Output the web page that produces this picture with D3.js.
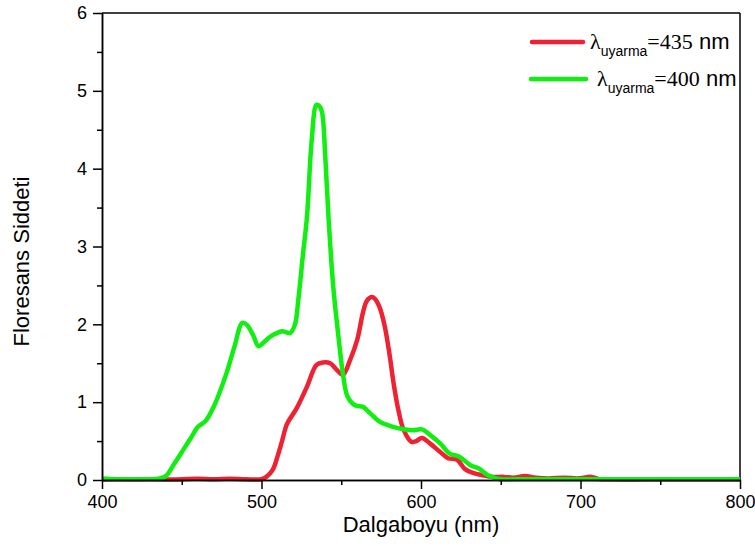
<!DOCTYPE html>
<html><head><meta charset="utf-8">
<script src="https://cdn.jsdelivr.net/npm/d3@7"></script>
<style>body{margin:0;background:#fff}svg{display:block}
.serif{font-family:"Liberation Serif","DejaVu Serif","Times New Roman",serif}
.sans{font-family:"Liberation Sans",Arial,sans-serif}
</style>
</head><body>
<svg id="chart" width="755" height="546"></svg>
<script>
// Data (wavelength nm, fluorescence intensity)
const redX = [400,410,420,430,440,450,460,470,480,490,500,503,507,510,513,516,522,528.5,534.5,538.6,543,547,551,555.5,560,563.6,566,569,571,574,577,580,583,586,589,594,597,600.6,605.6,612,617,622.6,627.6,632.6,639,645,652,658,665,672,680,690,698,707,712,720,740,760,780,800];
const redY = [0.005,0.01,0.005,0.01,0.005,0.01,0.015,0.01,0.015,0.01,0.01,0.04,0.13,0.3,0.51,0.72,0.92,1.2,1.48,1.51,1.5,1.42,1.35,1.54,1.8,2.15,2.3,2.35,2.33,2.22,2.0,1.65,1.22,0.88,0.65,0.49,0.5,0.54,0.47,0.36,0.28,0.26,0.14,0.09,0.06,0.04,0.04,0.03,0.05,0.03,0.02,0.03,0.02,0.04,0.01,0.005,0.005,0.005,0.005,0.005];
const greenX = [400,410,420,430,436,440,445,451,456,460,465,470,478,483,488,491,495,498,502,506,510,513,518,521,523,526,528.5,531.5,534.5,536.5,538,540,542,545,548,551,554,558.6,563.6,568,574,580,585,590,595,600.6,605.6,612,618,624,631,636,642,649.5,660,700,750,800];
const greenY = [0.02,0.01,0.01,0.01,0.02,0.05,0.2,0.39,0.55,0.68,0.76,0.94,1.37,1.71,2.02,1.99,1.85,1.72,1.78,1.85,1.89,1.91,1.89,2.0,2.3,2.9,3.38,4.37,4.82,4.8,4.72,4.15,3.38,2.48,1.89,1.37,1.07,0.96,0.94,0.86,0.75,0.7,0.67,0.65,0.64,0.65,0.58,0.47,0.34,0.3,0.19,0.15,0.06,0.01,0.01,0.01,0.01,0.01];
const xTicks = [400,500,600,700,800];
const xMinor = [450,550,650,750];
const yTicks = [0,1,2,3,4,5,6];
const yMinor = [0.5,1.5,2.5,3.5,4.5,5.5];
const seriesNames = ["=435", "=400"];

const svg = d3.select("#chart");
const L = 102, R = 740, T = 13, B = 480;
const x = d3.scaleLinear().domain([400,800]).range([L,R]);
const y = d3.scaleLinear().domain([0,6]).range([B,T]);

const line = d3.line().x(d => x(d[0])).y(d => y(d[1])).curve(d3.curveCatmullRom.alpha(0.5));
const red = redX.map((v,i) => [v, redY[i]]);
const green = greenX.map((v,i) => [v, greenY[i]]);

const redC = "#ee2233", greenC = "#11ee11";

// frame
svg.append("line").attr("x1",L).attr("x2",R).attr("y1",T).attr("y2",T).attr("stroke","#000").attr("stroke-width",1.5);
svg.append("line").attr("x1",R).attr("x2",R).attr("y1",T).attr("y2",B).attr("stroke","#000").attr("stroke-width",1.5);

svg.append("path").datum(red).attr("d",line).attr("fill","none").attr("stroke",redC).attr("stroke-width",4.5).attr("stroke-linejoin","round");
svg.append("path").datum(green).attr("d",line).attr("fill","none").attr("stroke",greenC).attr("stroke-width",4.5).attr("stroke-linejoin","round");

// axes
svg.append("g").attr("transform",`translate(0,${B})`)
  .call(d3.axisBottom(x).tickValues(xTicks).tickSize(9).tickPadding(6).tickSizeOuter(0).tickFormat(d3.format("d")));
svg.append("g").attr("transform",`translate(0,${B})`)
  .call(d3.axisBottom(x).tickValues(xMinor).tickSize(5).tickFormat("").tickSizeOuter(0));
svg.append("g").attr("transform",`translate(${L},0)`)
  .call(d3.axisLeft(y).tickValues(yTicks).tickSize(9).tickPadding(6).tickSizeOuter(0).tickFormat(d3.format("d")));
svg.append("g").attr("transform",`translate(${L},0)`)
  .call(d3.axisLeft(y).tickValues(yMinor).tickSize(5).tickFormat("").tickSizeOuter(0));
svg.selectAll(".domain").attr("stroke","#000").attr("stroke-width",1.5);
svg.selectAll(".tick line").attr("stroke","#000").attr("stroke-width",1.5);
svg.selectAll(".tick text").attr("class","sans").attr("font-size",18).attr("fill","#000");

// titles
svg.append("text").attr("class","sans").attr("x",(L+R)/2).attr("y",532).attr("text-anchor","middle")
  .attr("font-size",22).text("Dalgaboyu (nm)");
svg.append("text").attr("class","sans").attr("transform",`translate(29,${(T+B)/2+15}) rotate(-90)`).attr("text-anchor","middle")
  .attr("font-size",22).text("Floresans Siddeti");

// legend
const leg = [
  {c: redC, x1: 532, x2: 583, y: 42, tx: 590, base: 49, name: seriesNames[0]},
  {c: greenC, x1: 531, x2: 586, y: 79, tx: 597, base: 86, name: seriesNames[1]}
];
leg.forEach(d => {
  svg.append("line").attr("x1",d.x1).attr("x2",d.x2).attr("y1",d.y).attr("y2",d.y)
    .attr("stroke",d.c).attr("stroke-width",4.5).attr("stroke-linecap","round");
  const t = svg.append("text").attr("class","serif").attr("x",d.tx).attr("y",d.base).attr("font-size",22).attr("fill","#000");
  t.append("tspan").attr("class","serif").text("λ");
  t.append("tspan").attr("class","sans").attr("font-size",14).attr("dy",7).text("uyarma");
  t.append("tspan").attr("class","serif").attr("dy",-7).text(d.name);
  t.append("tspan").attr("class","sans").text(" nm");
});
</script>
</body></html>
